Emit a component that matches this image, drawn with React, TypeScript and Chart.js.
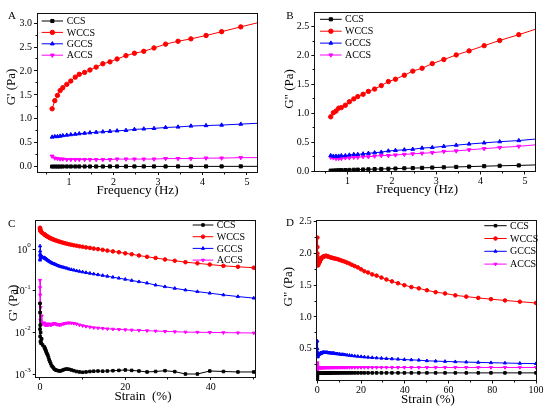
import React, { useEffect, useRef } from "react";
import { Chart, registerables } from "chart.js";

Chart.register(...registerables);

const FONT = '"Liberation Serif", "Times New Roman", serif';

// ---------- shared series info ----------
const seriesNames = ["CCS", "WCCS", "GCCS", "ACCS"];
const seriesColors = ["#000000", "#ff0000", "#0000ff", "#ff00ff"];
const seriesStyles = ["rect", "circle", "triangle", "triangle"];
const seriesRotations = [0, 0, 0, 180];

// ---------- panels A & B : frequency sweep ----------
const freq = [0.62, 0.68, 0.74, 0.8, 0.86, 0.95, 1.04, 1.14, 1.23, 1.35, 1.47, 1.61, 1.76, 1.92, 2.08, 2.28, 2.47, 2.68, 2.91, 3.17, 3.45, 3.74, 4.08, 4.43, 4.86, 5.3];

const gpCCS = [0.004, 0.004, 0.004, 0.004, 0.005, 0.005, 0.005, 0.005, 0.005, 0.005, 0.005, 0.005, 0.005, 0.006, 0.006, 0.006, 0.006, 0.006, 0.006, 0.006, 0.007, 0.007, 0.007, 0.007, 0.008, 0.008];
const gpWCCS = [1.21, 1.38, 1.49, 1.59, 1.65, 1.72, 1.79, 1.87, 1.93, 1.97, 2.02, 2.08, 2.15, 2.19, 2.25, 2.32, 2.37, 2.41, 2.48, 2.56, 2.62, 2.67, 2.74, 2.82, 2.92, 3.02];
const gpGCCS = [0.62, 0.63, 0.63, 0.64, 0.65, 0.66, 0.67, 0.68, 0.69, 0.7, 0.71, 0.72, 0.73, 0.74, 0.75, 0.76, 0.78, 0.79, 0.8, 0.82, 0.83, 0.85, 0.86, 0.87, 0.89, 0.91];
const gpACCS = [0.22, 0.18, 0.17, 0.16, 0.16, 0.15, 0.15, 0.15, 0.15, 0.15, 0.15, 0.15, 0.15, 0.15, 0.16, 0.16, 0.16, 0.16, 0.16, 0.17, 0.17, 0.17, 0.18, 0.18, 0.19, 0.19];

const gppCCS = [0.01, 0.012, 0.014, 0.016, 0.018, 0.02, 0.022, 0.025, 0.027, 0.03, 0.033, 0.036, 0.039, 0.042, 0.046, 0.05, 0.054, 0.058, 0.063, 0.068, 0.074, 0.08, 0.087, 0.094, 0.1, 0.11];
const gppWCCS = [0.94, 1.01, 1.04, 1.09, 1.1, 1.14, 1.2, 1.25, 1.29, 1.33, 1.38, 1.42, 1.48, 1.55, 1.59, 1.66, 1.73, 1.78, 1.86, 1.93, 2.01, 2.08, 2.17, 2.26, 2.36, 2.47];
const gppGCCS = [0.27, 0.26, 0.26, 0.26, 0.27, 0.27, 0.28, 0.29, 0.29, 0.3, 0.31, 0.32, 0.33, 0.35, 0.36, 0.37, 0.38, 0.4, 0.41, 0.43, 0.45, 0.47, 0.49, 0.51, 0.53, 0.56];
const gppACCS = [0.24, 0.23, 0.22, 0.22, 0.22, 0.23, 0.23, 0.24, 0.24, 0.25, 0.25, 0.26, 0.27, 0.27, 0.28, 0.29, 0.3, 0.31, 0.32, 0.34, 0.35, 0.37, 0.39, 0.41, 0.43, 0.46];

// ---------- panels C & D : strain sweep ----------
const strain = [
  0.01, 0.016, 0.025, 0.04, 0.063, 0.1, 0.16, 0.25, 0.4, 0.63,
  1.0, 1.08, 1.17, 1.26, 1.36, 1.47, 1.58, 1.71, 1.85, 2.0,
  2.15, 2.32, 2.51, 2.71, 2.93, 3.16, 3.41, 3.69, 3.98, 4.3,
  4.64, 5.01, 5.41, 5.84, 6.31, 6.81, 7.36, 7.94, 8.58, 9.26,
  10.0, 10.8, 11.7, 12.6, 13.6, 14.7, 15.8, 17.1, 18.5, 20.0,
  21.5, 23.2, 25.1, 27.1, 29.3, 31.6, 34.1, 36.9, 39.8, 43.0,
  46.4, 50.1, 54.1, 58.4, 63.1, 68.1, 73.6, 79.4, 85.8, 92.6,
  100,
];

const cCCS = [
  0.05, 0.012, 0.03, 0.008, 0.015, 0.006, 0.01, 0.0055, 0.007, 0.005,
  0.0045, 0.0043, 0.0041, 0.0039, 0.0037, 0.0034, 0.0032, 0.003, 0.0028, 0.0025,
  0.0022, 0.002, 0.0018, 0.0016, 0.0015, 0.0014, 0.0013, 0.00125, 0.00122, 0.0012,
  0.00118, 0.0012, 0.00125, 0.0013, 0.00132, 0.0013, 0.00125, 0.0012, 0.00115, 0.00112,
  0.0011, 0.00112, 0.00115, 0.00117, 0.00118, 0.00117, 0.00118, 0.0012, 0.00122, 0.00125,
  0.00122, 0.00118, 0.00112, 0.00115, 0.0012, 0.00114, 0.001, 0.001, 0.00118, 0.00115,
  0.00112, 0.00112, 0.00112,
];
const cWCCS = [
  3.3, 3.2, 3.1, 3.0, 2.9, 2.8, 2.75, 2.65, 2.55, 2.45,
  2.3, 2.27, 2.24, 2.2, 2.16, 2.12, 2.08, 2.04, 2.0, 1.96,
  1.92, 1.88, 1.84, 1.8, 1.76, 1.72, 1.68, 1.64, 1.6, 1.56,
  1.52, 1.48, 1.44, 1.4, 1.36, 1.32, 1.29, 1.25, 1.22, 1.18,
  1.15, 1.11, 1.08, 1.04, 1.01, 0.97, 0.93, 0.89, 0.85, 0.8,
  0.76, 0.71, 0.66, 0.62, 0.57, 0.53, 0.49, 0.46, 0.43, 0.4,
  0.38, 0.36, 0.34,
];
const cGCCS = [
  0.75, 1.2, 0.55, 0.9, 0.6, 0.7, 0.65, 0.72, 0.66, 0.64,
  0.63, 0.62, 0.61, 0.6, 0.59, 0.58, 0.57, 0.555, 0.54, 0.53,
  0.515, 0.5, 0.49, 0.475, 0.46, 0.45, 0.44, 0.43, 0.415, 0.4,
  0.39, 0.38, 0.37, 0.36, 0.35, 0.335, 0.325, 0.315, 0.305, 0.295,
  0.285, 0.275, 0.265, 0.255, 0.245, 0.235, 0.225, 0.213, 0.202, 0.19,
  0.178, 0.166, 0.154, 0.138, 0.126, 0.115, 0.105, 0.096, 0.088, 0.08,
  0.073, 0.067, 0.061,
];
const cACCS = [
  0.18, 0.05, 0.12, 0.03, 0.08, 0.02, 0.04, 0.018, 0.025, 0.016,
  0.017, 0.0155, 0.016, 0.015, 0.0155, 0.015, 0.0155, 0.016, 0.015, 0.0155,
  0.016, 0.0155, 0.015, 0.0155, 0.016, 0.016, 0.0165, 0.016, 0.0155, 0.0155,
  0.015, 0.0155, 0.016, 0.0165, 0.0168, 0.017, 0.0168, 0.0165, 0.016, 0.0152,
  0.0145, 0.014, 0.0135, 0.013, 0.0128, 0.0125, 0.0122, 0.012, 0.0118, 0.0116,
  0.0114, 0.0112, 0.011, 0.0108, 0.0106, 0.0104, 0.0102, 0.0101, 0.01, 0.0099,
  0.0098, 0.0097, 0.0096,
];

const dCCS = [
  0.02, 0.05, 0.08, 0.1, 0.11, 0.115, 0.115, 0.118, 0.118, 0.12,
  0.12, 0.12, 0.12, 0.12, 0.12, 0.12, 0.12, 0.12, 0.12, 0.12,
  0.12, 0.12, 0.12, 0.12, 0.12, 0.12, 0.12, 0.12, 0.12, 0.12,
  0.12, 0.12, 0.12, 0.12, 0.12, 0.12, 0.12, 0.12, 0.12, 0.12,
  0.12, 0.12, 0.12, 0.12, 0.12, 0.12, 0.12, 0.12, 0.12, 0.12,
  0.12, 0.12, 0.12, 0.12, 0.12, 0.12, 0.12, 0.12, 0.12, 0.12,
  0.12, 0.12, 0.12, 0.12, 0.12, 0.12, 0.12, 0.12, 0.12, 0.12,
  0.12,
];
const dWCCS = [
  2.25, 2.1, 2.0, 1.95, 1.9, 1.85, 1.82, 1.81, 1.82, 1.84,
  1.86, 1.87, 1.88, 1.89, 1.9, 1.905, 1.91, 1.92, 1.925, 1.93,
  1.935, 1.94, 1.945, 1.95, 1.95, 1.955, 1.96, 1.96, 1.96, 1.96,
  1.955, 1.95, 1.945, 1.94, 1.935, 1.93, 1.925, 1.92, 1.915, 1.91,
  1.9, 1.89, 1.88, 1.87, 1.855, 1.84, 1.82, 1.8, 1.78, 1.75,
  1.72, 1.7, 1.67, 1.65, 1.62, 1.59, 1.56, 1.53, 1.5, 1.47,
  1.45, 1.42, 1.39, 1.37, 1.34, 1.32, 1.3, 1.28, 1.26, 1.24,
  1.22,
];
const dGCCS = [
  0.62, 0.5, 0.45, 0.4, 0.38, 0.37, 0.38, 0.39, 0.4, 0.41,
  0.415, 0.42, 0.42, 0.425, 0.425, 0.43, 0.43, 0.43, 0.435, 0.435,
  0.435, 0.44, 0.44, 0.44, 0.44, 0.44, 0.44, 0.44, 0.44, 0.44,
  0.44, 0.435, 0.435, 0.435, 0.43, 0.43, 0.43, 0.425, 0.42, 0.42,
  0.415, 0.41, 0.41, 0.405, 0.4, 0.395, 0.39, 0.385, 0.38, 0.375,
  0.37, 0.365, 0.36, 0.355, 0.35, 0.345, 0.34, 0.335, 0.33, 0.325,
  0.32, 0.31, 0.305, 0.3, 0.295, 0.29, 0.285, 0.28, 0.275, 0.27,
  0.265,
];
const dACCS = [
  0.28, 0.15, 0.25, 0.18, 0.22, 0.19, 0.21, 0.2, 0.205, 0.205,
  0.205, 0.205, 0.205, 0.205, 0.205, 0.205, 0.205, 0.205, 0.205, 0.205,
  0.205, 0.205, 0.205, 0.205, 0.205, 0.205, 0.205, 0.205, 0.205, 0.205,
  0.205, 0.205, 0.205, 0.205, 0.205, 0.205, 0.205, 0.205, 0.205, 0.205,
  0.205, 0.205, 0.205, 0.205, 0.205, 0.205, 0.205, 0.205, 0.205, 0.205,
  0.205, 0.205, 0.205, 0.205, 0.205, 0.205, 0.205, 0.205, 0.205, 0.205,
  0.205, 0.205, 0.205, 0.205, 0.205, 0.205, 0.205, 0.205, 0.205, 0.205,
  0.205,
];

// ---------- tick values ----------
const freqTicks = [1, 2, 3, 4, 5];
const freqMinor = [0.5, 1.5, 2.5, 3.5, 4.5];
const aYTicks = [0, 0.5, 1, 1.5, 2, 2.5, 3];
const aYMinor = [0.25, 0.75, 1.25, 1.75, 2.25, 2.75];
const bYTicks = [0, 0.5, 1, 1.5, 2, 2.5];
const bYMinor = [0.25, 0.75, 1.25, 1.75, 2.25];
const cXTicks = [0, 20, 40];
const cXMinor = [10, 30, 50];
const cYTicks = [0.001, 0.01, 0.1, 1];
const cYExponents = ["-3", "-2", "-1", "0"];
const dXTicks = [0, 20, 40, 60, 80, 100];
const dXMinor = [10, 30, 50, 70, 90];
const dYTicks = [0.5, 1, 1.5, 2, 2.5];
const dYMinor = [0.25, 0.75, 1.25, 1.75, 2.25];

type Spec = {
  left: number; top: number; w: number; h: number;
  padTop: number; padRight: number; yW: number; xH: number;
  x: number[]; ys: number[][];
  xMin: number; xMax: number; xTicks: number[]; xMinor: number[];
  yType: string; yMin: number; yMax: number; yTicks: number[]; yMinor: number[];
  logLabels?: boolean;
  r: number;
  letter: { t: string; x: number; y: number };
  xTitle: { t: string; x: number; y: number };
  yTitle: { t: string; x: number; y: number };
  legend: { x1: number; x2: number; tx: number; y0: number; dy: number };
};

const specs: Spec[] = [
  {
    left: 0, top: 0, w: 275, h: 204, padTop: 13, padRight: 18, yW: 37, xH: 32,
    x: freq, ys: [gpCCS, gpWCCS, gpGCCS, gpACCS],
    xMin: 0.28, xMax: 5.225, xTicks: freqTicks, xMinor: freqMinor,
    yType: "linear", yMin: -0.11, yMax: 3.21, yTicks: aYTicks, yMinor: aYMinor,
    r: 2.2,
    letter: { t: "A", x: 12, y: 16 },
    xTitle: { t: "Frequency (Hz)", x: 137.5, y: 191 },
    yTitle: { t: "G' (Pa)", x: 11.7, y: 87 },
    legend: { x1: 41.7, x2: 63, tx: 66.7, y0: 21, dy: 11.4 },
  },
  {
    left: 275, top: 0, w: 275, h: 204, padTop: 12.7, padRight: 15, yW: 39.3, xH: 32.5,
    x: freq, ys: [gppCCS, gppWCCS, gppGCCS, gppACCS],
    xMin: 0.25, xMax: 5.226, xTicks: freqTicks, xMinor: freqMinor,
    yType: "linear", yMin: -0.005, yMax: 2.74, yTicks: bYTicks, yMinor: bYMinor,
    r: 2.2,
    letter: { t: "B", x: 15, y: 16.5 },
    xTitle: { t: "Frequency (Hz)", x: 142, y: 190 },
    yTitle: { t: 'G" (Pa)', x: 15, y: 89 },
    legend: { x1: 45, x2: 66.7, tx: 70, y0: 19.3, dy: 11.9 },
  },
  {
    left: 0, top: 204, w: 275, h: 205, padTop: 16, padRight: 20, yW: 35.7, xH: 32,
    x: strain, ys: [cCCS, cWCCS, cGCCS, cACCS],
    xMin: -1, xMax: 50.4, xTicks: cXTicks, xMinor: cXMinor,
    yType: "logarithmic", yMin: 0.000847, yMax: 5.07, yTicks: cYTicks, yMinor: [],
    logLabels: true,
    r: 1.8,
    letter: { t: "C", x: 11.7, y: 20 },
    xTitle: { t: "Strain  (%)", x: 143, y: 192.7 },
    yTitle: { t: "G' (Pa)", x: 13.3, y: 99 },
    legend: { x1: 192.7, x2: 213.3, tx: 216.7, y0: 21, dy: 11.7 },
  },
  {
    left: 275, top: 204, w: 275, h: 205, padTop: 16.7, padRight: 14, yW: 41.7, xH: 28.5,
    x: strain, ys: [dCCS, dWCCS, dGCCS, dACCS],
    xMin: -0.3, xMax: 100, xTicks: dXTicks, xMinor: dXMinor,
    yType: "linear", yMin: 0, yMax: 2.515, yTicks: dYTicks, yMinor: dYMinor,
    r: 1.8,
    letter: { t: "D", x: 15, y: 19.5 },
    xTitle: { t: "Strain (%)", x: 153, y: 195.3 },
    yTitle: { t: 'G" (Pa)', x: 14, y: 82.7 },
    legend: { x1: 209.3, x2: 231.7, tx: 235, y0: 21.7, dy: 12.8 },
  },
];

function alignPx(p: number) {
  return Math.round(p - 0.5) + 0.5;
}

function drawMarker(ctx: CanvasRenderingContext2D, style: string, rot: number, x: number, y: number, r: number, color: string) {
  ctx.fillStyle = color;
  ctx.strokeStyle = color;
  ctx.lineWidth = 1;
  ctx.beginPath();
  if (style === "rect") {
    const s = r * Math.SQRT1_2;
    ctx.rect(x - s, y - s, 2 * s, 2 * s);
  } else if (style === "circle") {
    ctx.arc(x, y, r, 0, Math.PI * 2);
  } else {
    let a = (rot * Math.PI) / 180;
    ctx.moveTo(x + Math.sin(a) * r, y - Math.cos(a) * r);
    a += (2 * Math.PI) / 3;
    ctx.lineTo(x + Math.sin(a) * r, y - Math.cos(a) * r);
    a += (2 * Math.PI) / 3;
    ctx.lineTo(x + Math.sin(a) * r, y - Math.cos(a) * r);
    ctx.closePath();
  }
  ctx.fill();
  ctx.stroke();
}

const decorPlugin = {
  id: "decor",
  afterDraw(chart: any, _args: any, o: any) {
    const s: Spec = o.spec;
    if (!s) return;
    const ctx: CanvasRenderingContext2D = chart.ctx;
    const a = chart.chartArea;
    const xs = chart.scales.x;
    const ys = chart.scales.y;
    ctx.save();
    // frame
    ctx.strokeStyle = "#111";
    ctx.lineWidth = 1;
    const L = alignPx(a.left), R = alignPx(a.right), T = alignPx(a.top), B = alignPx(a.bottom);
    ctx.strokeRect(L, T, R - L, B - T);
    // minor ticks
    ctx.beginPath();
    s.xMinor.forEach((v) => {
      const px = xs.getPixelForValue(v);
      if (px < a.left - 0.5 || px > a.right + 0.5) return;
      const ax = alignPx(px);
      ctx.moveTo(ax, B);
      ctx.lineTo(ax, B + 2);
    });
    s.yMinor.forEach((v) => {
      const py = ys.getPixelForValue(v);
      if (py < a.top - 0.5 || py > a.bottom + 0.5) return;
      const ay = alignPx(py);
      ctx.moveTo(L, ay);
      ctx.lineTo(L - 2, ay);
    });
    ctx.stroke();

    ctx.fillStyle = "#000";
    // log axis labels 10^n
    if (s.logLabels) {
      s.yTicks.forEach((v, i) => {
        const py = ys.getPixelForValue(v);
        const rx = a.left - 5;
        const exp = cYExponents[i];
        ctx.font = `7px ${FONT}`;
        const ew = ctx.measureText(exp).width;
        ctx.textAlign = "left";
        ctx.textBaseline = "middle";
        ctx.fillText(exp, rx - ew, py - 4);
        ctx.font = `10px ${FONT}`;
        ctx.textAlign = "right";
        ctx.fillText("10", rx - ew, py + 1);
      });
    }

    // panel letter
    ctx.font = `11px ${FONT}`;
    ctx.textAlign = "center";
    ctx.textBaseline = "middle";
    ctx.fillText(s.letter.t, s.letter.x, s.letter.y);

    // axis titles
    ctx.font = `13px ${FONT}`;
    ctx.fillText(s.xTitle.t, s.xTitle.x, s.xTitle.y);
    ctx.save();
    ctx.translate(s.yTitle.x, s.yTitle.y);
    ctx.rotate(-Math.PI / 2);
    ctx.fillText(s.yTitle.t, 0, 0);
    ctx.restore();

    // legend
    const lg = s.legend;
    seriesNames.forEach((name, i) => {
      const y = lg.y0 + i * lg.dy;
      ctx.strokeStyle = seriesColors[i];
      ctx.lineWidth = 1;
      ctx.beginPath();
      ctx.moveTo(lg.x1, y);
      ctx.lineTo(lg.x2, y);
      ctx.stroke();
      drawMarker(ctx, seriesStyles[i], seriesRotations[i], (lg.x1 + lg.x2) / 2, y, s.r, seriesColors[i]);
      ctx.fillStyle = "#000";
      ctx.font = `10px ${FONT}`;
      ctx.textAlign = "left";
      ctx.textBaseline = "middle";
      ctx.fillText(name, lg.tx, y + 0.5);
    });
    ctx.restore();
  },
};

function buildConfig(s: Spec): any {
  const datasets = seriesNames.map((name, i) => {
    const vals = s.ys[i];
    return {
      label: name,
      data: vals.map((v, j) => ({ x: s.x[j], y: v })),
      borderColor: seriesColors[i],
      backgroundColor: seriesColors[i],
      borderWidth: 1,
      pointStyle: seriesStyles[i],
      pointRotation: seriesRotations[i],
      pointRadius: s.r,
      pointHoverRadius: s.r,
      pointBorderWidth: 1,
      tension: 0,
      fill: false,
    };
  });
  const tickFont = { family: FONT, size: 10 };
  return {
    type: "line",
    data: { datasets },
    options: {
      animation: false,
      responsive: false,
      events: [],
      layout: { padding: { left: 0, top: s.padTop, right: s.padRight, bottom: 0 } },
      plugins: {
        legend: { display: false },
        tooltip: { enabled: false },
        decor: { spec: s },
      },
      scales: {
        x: {
          type: "linear",
          min: s.xMin,
          max: s.xMax,
          afterBuildTicks: (sc: any) => {
            sc.ticks = s.xTicks.map((v) => ({ value: v }));
          },
          afterFit: (sc: any) => {
            sc.height = s.xH;
          },
          ticks: {
            font: tickFont,
            color: "#000",
            padding: 1,
            maxRotation: 0,
            autoSkip: false,
            callback: (v: any) => String(v),
          },
          grid: { display: true, drawOnChartArea: false, drawTicks: true, tickLength: 3, color: "#111" },
          border: { display: false },
        },
        y: {
          type: s.yType,
          min: s.yMin,
          max: s.yMax,
          afterBuildTicks: (sc: any) => {
            sc.ticks = s.yTicks.map((v) => ({ value: v }));
          },
          afterFit: (sc: any) => {
            sc.width = s.yW;
          },
          ticks: {
            font: tickFont,
            color: "#000",
            padding: 2,
            autoSkip: false,
            callback: (v: any) => (s.logLabels ? "" : Number(v).toFixed(1)),
          },
          grid: { display: true, drawOnChartArea: false, drawTicks: true, tickLength: 3, color: "#111" },
          border: { display: false },
        },
      },
    },
    plugins: [decorPlugin],
  };
}

function Panel({ spec }: { spec: Spec }) {
  const ref = useRef<HTMLCanvasElement | null>(null);
  useEffect(() => {
    if (!ref.current) return;
    const chart = new Chart(ref.current, buildConfig(spec));
    return () => chart.destroy();
  }, [spec]);
  return (
    <canvas
      ref={ref}
      width={spec.w}
      height={spec.h}
      style={{ position: "absolute", left: spec.left, top: spec.top, width: spec.w, height: spec.h }}
    />
  );
}

export default function App() {
  return (
    <div style={{ position: "absolute", left: 0, top: 0, width: 550, height: 409, background: "#fff", overflow: "hidden" }}>
      {specs.map((s, i) => (
        <Panel key={i} spec={s} />
      ))}
    </div>
  );
}
